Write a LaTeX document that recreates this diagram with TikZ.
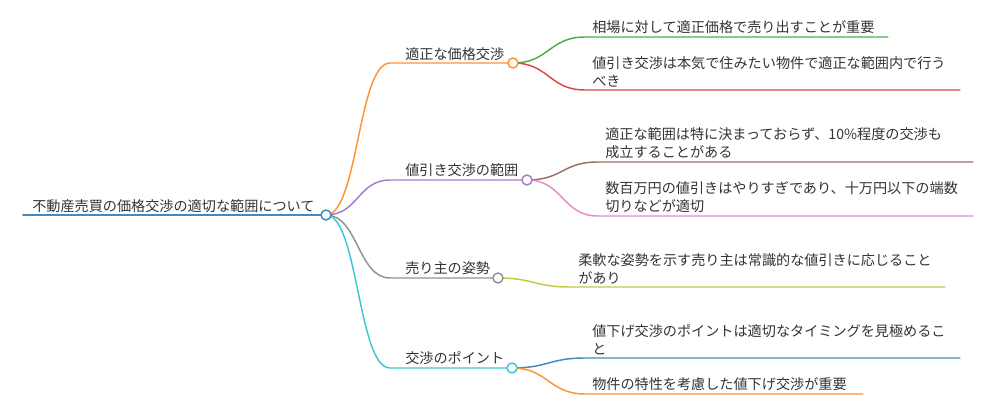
\documentclass[tikz,border=0pt]{standalone}
\usepackage{fontspec}
\setmainfont{Noto Sans CJK JP}
\usepackage{xcolor}
\usetikzlibrary{positioning, backgrounds}
\definecolor{mmblue}{HTML}{1F77B4}
\definecolor{mmorange}{HTML}{FF7F0E}
\definecolor{mmgreen}{HTML}{2CA02C}
\definecolor{mmred}{HTML}{D62728}
\definecolor{mmpurple}{HTML}{9467BD}
\definecolor{mmbrown}{HTML}{8C564B}
\definecolor{mmpink}{HTML}{E377C2}
\definecolor{mmgray}{HTML}{7F7F7F}
\definecolor{mmolive}{HTML}{BCBD22}
\definecolor{mmcyan}{HTML}{17BECF}
\tikzset{
  %% Topic text, sits on its underline
  topic/.style={
    anchor=south west, inner sep=0pt, align=left,
    text=black!80, font=\fontsize{10.6}{13.5}\selectfont
  },
  %% Branch curve and underline
  edge/.style={draw=#1!85!white, line width=1.1pt, line cap=round},
  edge/.default=mmblue,
  %% Small open circle at a fork
  knob/.style={
    circle, draw=#1!85!white, fill=white,
    minimum size=7.5pt, inner sep=0pt, line width=1.1pt
  },
  knob/.default=mmblue,
}

\begin{document}
\begin{tikzpicture}[x=0.75pt, y=-0.75pt]
  \useasboundingbox (0,0) rectangle (1000,416);

  %% Root
  \node[topic] (root) at (32,213) {不動産売買の価格交渉の適切な範囲について};
  \coordinate (root-s) at (23,215);
  \node[knob=mmblue] (root-k) at (326,215) {};

  %% Branch 1
  \node[topic] (b1) at (405,61) {適正な価格交渉};
  \coordinate (b1-s) at (390,63);
  \node[knob=mmorange] (b1-k) at (513,63) {};
  \node[topic] (l11) at (592,34) {相場に対して適正価格で売り出すことが重要};
  \coordinate (l11-s) at (585,37);
  \coordinate (l11-e) at (888,37);
  \node[topic] (l12) at (592,87)
       {値引き交渉は本気で住みたい物件で適正な範囲内で行う\\べき};
  \coordinate (l12-s) at (585,90);
  \coordinate (l12-e) at (960,90);

  %% Branch 2
  \node[topic] (b2) at (405,177) {値引き交渉の範囲};
  \coordinate (b2-s) at (390,180);
  \node[knob=mmpurple] (b2-k) at (527,180) {};
  \node[topic] (l21) at (605,159)
       {適正な範囲は特に決まっておらず、10\%程度の交渉も\\成立することがある};
  \coordinate (l21-s) at (598,162);
  \coordinate (l21-e) at (973,162);
  \node[topic] (l22) at (605,213)
       {数百万円の値引きはやりすぎであり、十万円以下の端数\\切りなどが適切};
  \coordinate (l22-s) at (598,216);
  \coordinate (l22-e) at (973,216);

  %% Branch 3
  \node[topic] (b3) at (405,275) {売り主の姿勢};
  \coordinate (b3-s) at (390,278);
  \node[knob=mmgray] (b3-k) at (498,278) {};
  \node[topic] (l31) at (578,284)
       {柔軟な姿勢を示す売り主は常識的な値引きに応じること\\があり};
  \coordinate (l31-s) at (570,287);
  \coordinate (l31-e) at (945,287);

  %% Branch 4
  \node[topic] (b4) at (405,365) {交渉のポイント};
  \coordinate (b4-s) at (390,368);
  \node[knob=mmcyan] (b4-k) at (512,368) {};
  \node[topic] (l41) at (592,355)
       {値下げ交渉のポイントは適切なタイミングを見極めるこ\\と};
  \coordinate (l41-s) at (585,358);
  \coordinate (l41-e) at (960,358);
  \node[topic] (l42) at (592,391) {物件の特性を考慮した値下げ交渉が重要};
  \coordinate (l42-s) at (585,394);
  \coordinate (l42-e) at (863,394);

  %% Curves and underlines behind the knobs
  \begin{scope}[on background layer]
    \draw[edge=mmblue, line width=1.5pt] (root-s) -- (root-k.center);

    \draw[edge=mmorange] (root-k.center) .. controls +(32,0) and +(-32,0) .. (b1-s) -- (b1-k.center);
    \draw[edge=mmpurple] (root-k.center) .. controls +(32,0) and +(-32,0) .. (b2-s) -- (b2-k.center);
    \draw[edge=mmgray]   (root-k.center) .. controls +(32,0) and +(-32,0) .. (b3-s) -- (b3-k.center);
    \draw[edge=mmcyan]   (root-k.center) .. controls +(32,0) and +(-32,0) .. (b4-s) -- (b4-k.center);

    \draw[edge=mmgreen] (b1-k.center) .. controls +(36,0) and +(-36,0) .. (l11-s) -- (l11-e);
    \draw[edge=mmred]   (b1-k.center) .. controls +(36,0) and +(-36,0) .. (l12-s) -- (l12-e);
    \draw[edge=mmbrown] (b2-k.center) .. controls +(36,0) and +(-36,0) .. (l21-s) -- (l21-e);
    \draw[edge=mmpink]  (b2-k.center) .. controls +(36,0) and +(-36,0) .. (l22-s) -- (l22-e);
    \draw[edge=mmolive] (b3-k.center) .. controls +(36,0) and +(-36,0) .. (l31-s) -- (l31-e);
    \draw[edge=mmblue]  (b4-k.center) .. controls +(36,0) and +(-36,0) .. (l41-s) -- (l41-e);
    \draw[edge=mmorange](b4-k.center) .. controls +(36,0) and +(-36,0) .. (l42-s) -- (l42-e);
  \end{scope}

\end{tikzpicture}
\end{document}
